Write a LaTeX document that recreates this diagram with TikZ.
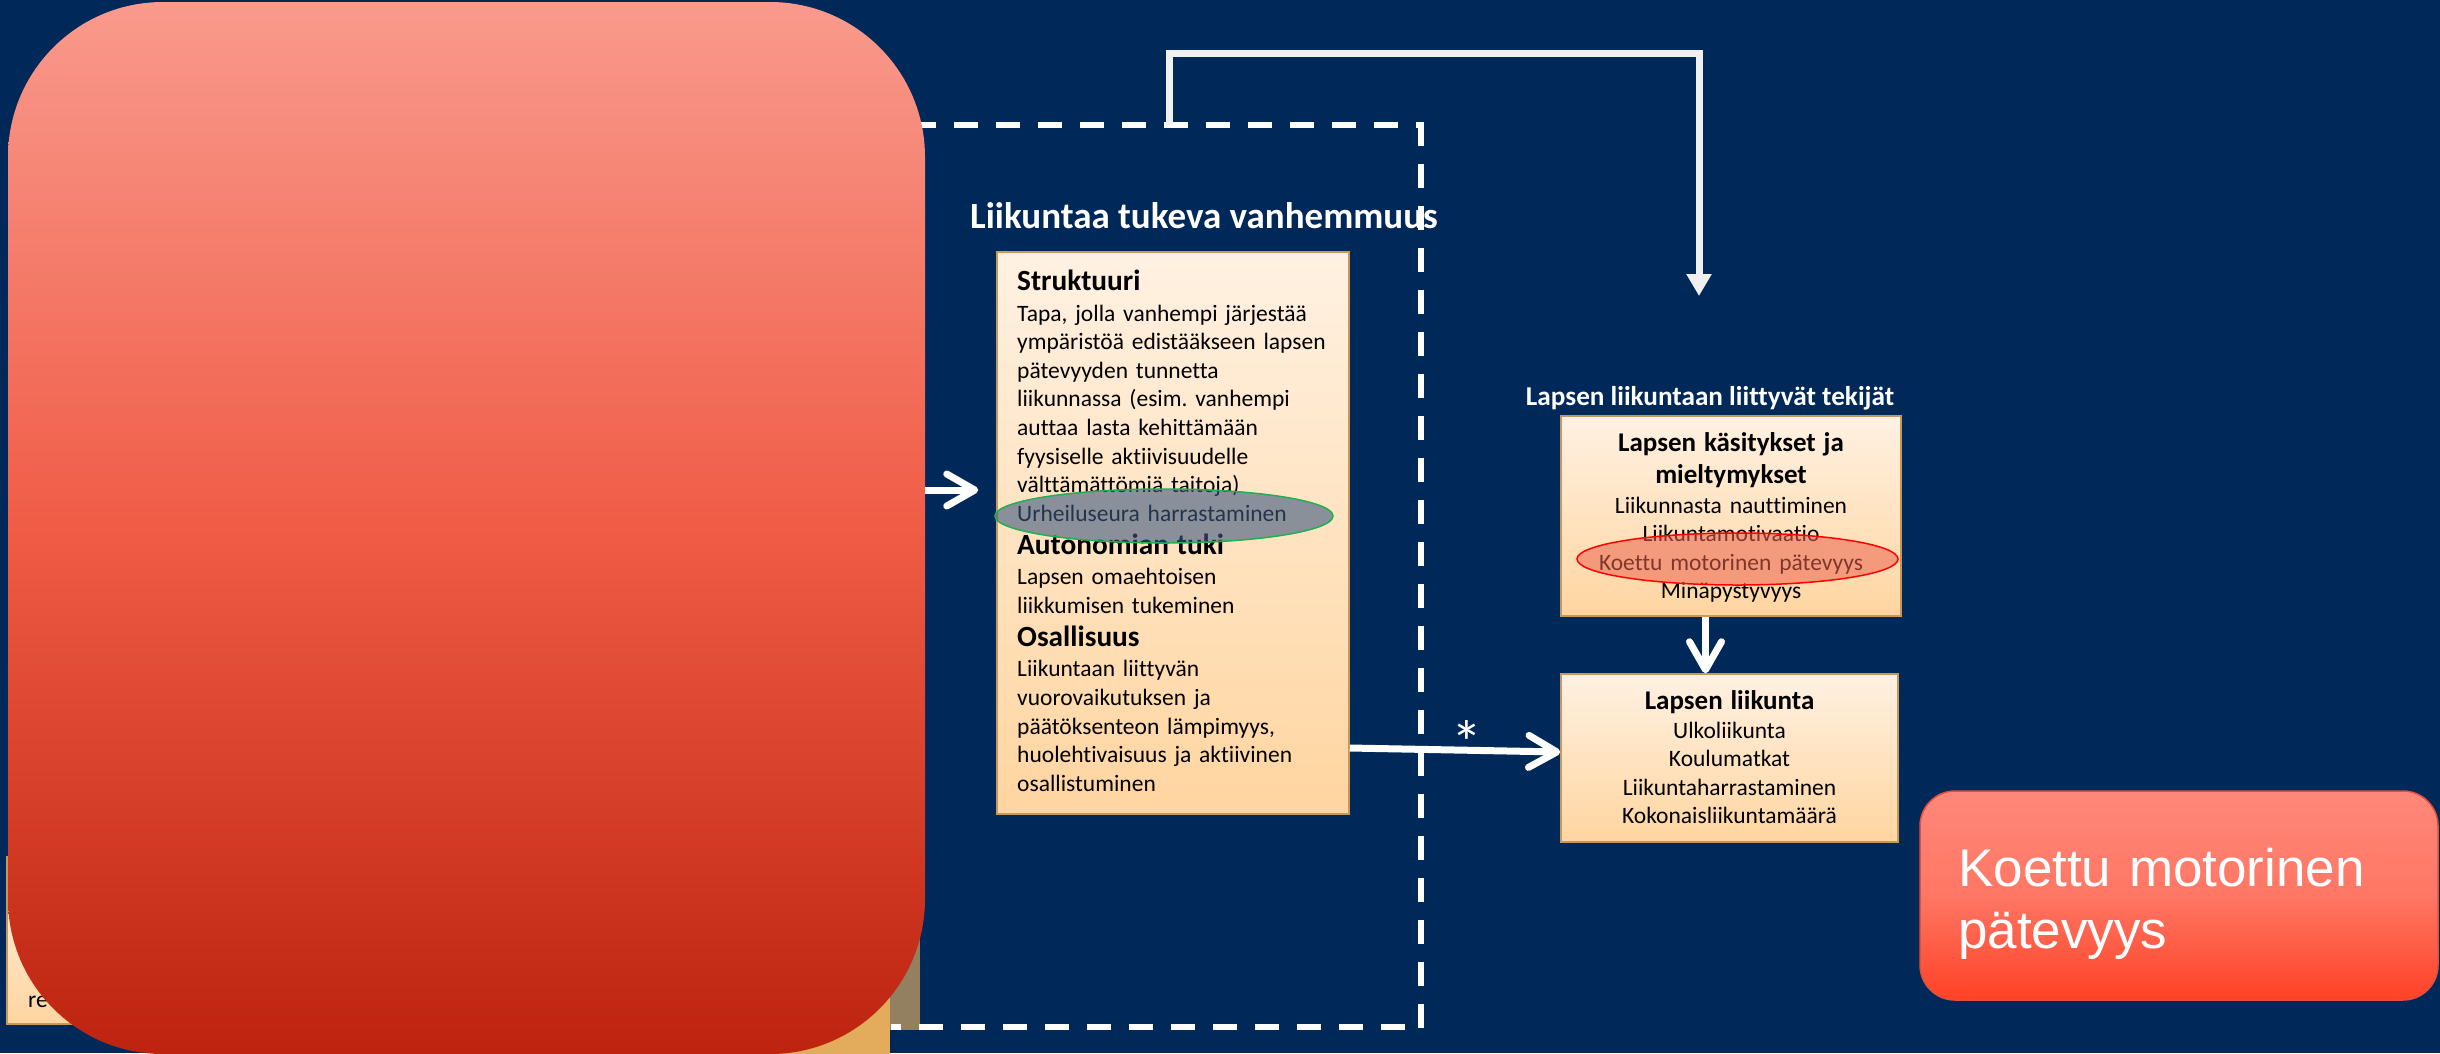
\documentclass[tikz,border=0pt]{standalone}
\usepackage{fontspec}
\setmainfont{Carlito}[Ligatures=NoCommon]
\newfontfamily\arialfont{Liberation Sans}
\usetikzlibrary{positioning,shapes.geometric,arrows.meta}

\definecolor{tausta}{RGB}{0,40,88}
\definecolor{persikkaYla}{RGB}{255,241,226}
\definecolor{persikkaAla}{RGB}{255,213,160}
\definecolor{persikkaReuna}{RGB}{198,152,92}
\definecolor{punaYla}{RGB}{249,154,141}
\definecolor{punaKeski}{RGB}{240,92,70}
\definecolor{punaAla}{RGB}{189,35,15}
\definecolor{koettuYla}{RGB}{255,136,122}
\definecolor{koettuKeski}{RGB}{255,118,100}
\definecolor{koettuAla}{RGB}{255,66,38}
\definecolor{koettuReuna}{RGB}{225,80,60}
\definecolor{viiva}{RGB}{240,240,240}
\definecolor{oranssi}{RGB}{226,172,92}
\definecolor{ruskea}{RGB}{146,128,96}
\definecolor{harmaa}{RGB}{60,88,128}
\definecolor{vihrea}{RGB}{32,176,80}
\definecolor{punaellipsi}{RGB}{235,100,81}

\newcommand{\osaotsikko}[1]{{\fontsize{29.3}{28.6}\selectfont\bfseries #1}}
\newcommand{\ruutuotsikko}[1]{{\fontsize{27}{28.6}\selectfont\bfseries #1}}

\begin{document}
\frenchspacing
\begin{tikzpicture}[x=1pt, y=-1pt, >={Straight Barb[length=28pt,width=32pt,round]},
laatikko/.style={rectangle, draw=persikkaReuna, line width=1.5pt, top color=persikkaYla, bottom color=persikkaAla, inner sep=0pt},
leipa/.style={inner sep=0pt, text=black, font=\fontsize{23.5}{28.6}\selectfont},
nuoli/.style={->, draw=white, line width=7pt},
kehys/.style={draw=white, line width=6pt, dash pattern=on 24pt off 18pt}]
\useasboundingbox (0,0) rectangle (2440,1053);
\fill[tausta] (0,0) rectangle (2440,1053);

% katkoviivakehys ja sen alle jaavat palat
\draw[kehys] (912,124.5) -- (1421,124.5);
\draw[kehys] (1421,122) -- (1421,1030);
\fill[ruskea] (890,800) rectangle (920,1030);
\draw[kehys, dash phase=14pt] (891,1027) -- (1421,1027);
\fill[oranssi] (600,900) rectangle (890,1060);
\node[laatikko, minimum width=693pt, minimum height=167pt] (resurssit) at (353.5,940.5) {};
\node[leipa, anchor=base west] (resurssiteksti) at (28,1007) {re};

% kulmayhteys kehyksesta
\coordinate (kehysyla) at (1169,124.5);
\coordinate (nuolenpaa) at (1699,296);
\draw[viiva, line width=7pt, -{Triangle[length=22pt,width=24pt]}] (kehysyla) -- (kehysyla |- 0,53) -| (nuolenpaa);

% iso punainen laatikko
\node[rectangle, rounded corners=155pt, top color=punaYla, bottom color=punaAla, middle color=punaKeski,
      minimum width=917pt, minimum height=1052pt, inner sep=0pt] (punainen) at (466.5,528) {};

% otsikot
\node[text=white, font=\fontsize{37}{40}\selectfont\bfseries, anchor=base, inner sep=0pt] (vanhemmuus) at (1204,228) {Liikuntaa tukeva vanhemmuus};
\node[text=white, font=\fontsize{27.2}{30}\selectfont\bfseries, anchor=base, inner sep=0pt] (tekijat) at (1710,405) {Lapsen liikuntaan liittyvät tekijät};

% laatikot
\node[laatikko, minimum width=352pt, minimum height=562pt] (rakenne) at (1173,533) {};
\node[laatikko, minimum width=340pt, minimum height=200pt] (kasitys) at (1731,516) {};
\node[laatikko, minimum width=337pt, minimum height=168pt] (liikunta) at (1729.5,758) {};

\node[leipa, text width=340pt, align=left, anchor=base west] (rakenneteksti) at (1017,290) {\osaotsikko{Struktuuri}\\[2.4pt]
Tapa, jolla vanhempi järjestää\\
ympäristöä edistääkseen lapsen\\
pätevyyden tunnetta\\
liikunnassa (esim. vanhempi\\
auttaa lasta kehittämään\\
fyysiselle aktiivisuudelle\\
välttämättömiä taitoja)\\
Urheiluseura harrastaminen\\[4.4pt]
\osaotsikko{Autonomian tuki}\\[1.9pt]
Lapsen omaehtoisen\\
liikkumisen tukeminen\\[4.5pt]
\osaotsikko{Osallisuus}\\[1.8pt]
Liikuntaan liittyvän\\
vuorovaikutuksen ja\\
päätöksenteon lämpimyys,\\
huolehtivaisuus ja aktiivinen\\
osallistuminen};

\node[leipa, text width=340pt, align=center, anchor=base] (kasitysteksti) at (1731,451) {\ruutuotsikko{Lapsen käsitykset ja}\\[3.4pt]
\ruutuotsikko{mieltymykset}\\[1.4pt]
Liikunnasta nauttiminen\\
Liikuntamotivaatio\\
Koettu motorinen pätevyys\\
Minäpystyvyys};

\node[leipa, text width=337pt, align=center, anchor=base] (liikuntateksti) at (1729.5,709) {\ruutuotsikko{Lapsen liikunta}\\[0.4pt]
Ulkoliikunta\\
Koulumatkat\\
Liikuntaharrastaminen\\
Kokonaisliikuntamäärä};

% korostukset
\node[ellipse, minimum width=338pt, minimum height=54pt, fill=harmaa, fill opacity=0.6, draw=vihrea, line width=1.5pt] (urheiluseura) at (1164,516) {};
\node[ellipse, minimum width=321pt, minimum height=52pt, fill=punaellipsi, fill opacity=0.55, draw=red, line width=1.5pt] (motorinen) at (1737.5,559) {};

% nuolet
\draw[nuoli, shorten >=18pt] ([yshift=38pt]punainen.east) -- ([yshift=43pt]rakenne.west);
\draw[nuoli] ([yshift=-215pt]rakenne.east) -- ([yshift=6pt]liikunta.west);
\draw[nuoli] ([xshift=-25.5pt]kasitys.south) -- ([xshift=-24pt]liikunta.north);
\node[text=white, font=\fontsize{62}{62}\selectfont, anchor=base, inner sep=0pt] (tahti) at (1467,764) {*};

% koettu motorinen patevyys
\node[rectangle, rounded corners=35pt, draw=koettuReuna, line width=1.5pt, top color=koettuYla, bottom color=koettuAla, middle color=koettuKeski,
      minimum width=518pt, minimum height=209pt, inner sep=0pt] (koettu) at (2179,895.5) {};
\node[text=white, font=\arialfont\fontsize{53}{62}\selectfont, text width=470pt, align=left, anchor=base west, inner sep=0pt] (koettuteksti) at (1958,886) {Koettu motorinen\\pätevyys};

\end{tikzpicture}
\end{document}
